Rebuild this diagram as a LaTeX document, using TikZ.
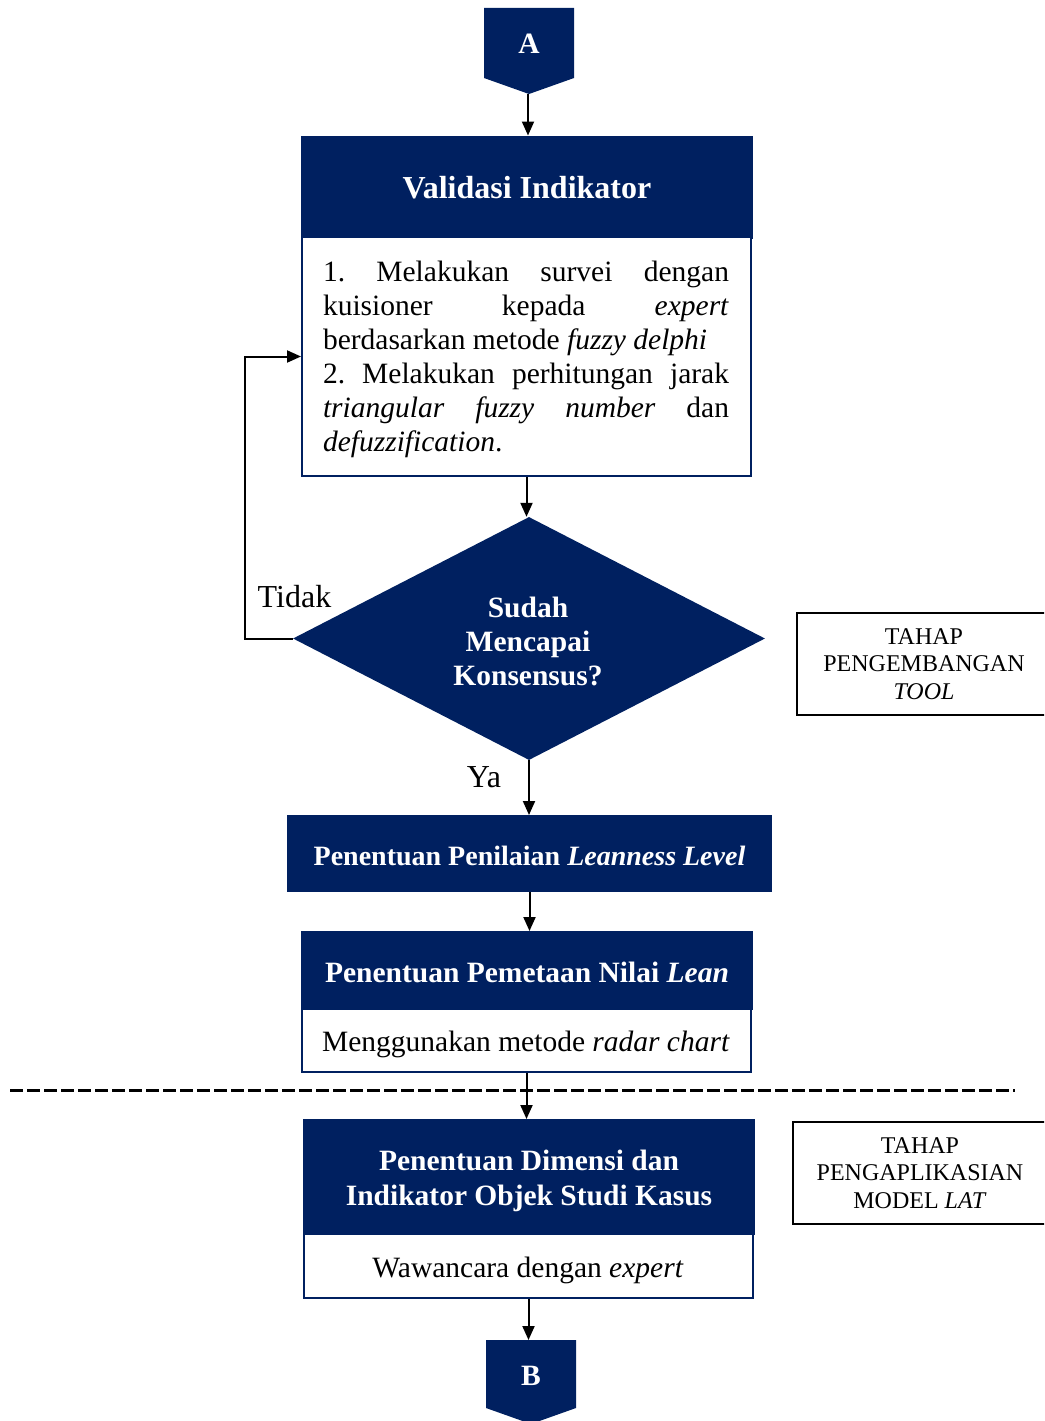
\documentclass[tikz,border=0pt]{standalone}
\usepackage{fontspec}
\setmainfont{Liberation Serif}
\usetikzlibrary{arrows.meta,shapes.geometric}
\definecolor{navy}{RGB}{0,32,96}

\begin{document}
\begin{tikzpicture}[x=1pt,y=-1pt,
  hdr/.style={draw=navy,fill=navy,line width=2pt,inner sep=0pt},
  bodybox/.style={draw=navy,fill=white,line width=2pt,inner sep=0pt},
  txt/.style={font=\fontsize{29.5}{34}\selectfont,inner sep=0pt,align=center},
  wtxt/.style={font=\fontsize{29.5}{35}\selectfont\bfseries,text=white,inner sep=0pt,align=center},
  flow/.style={line width=2pt,-{Triangle[length=14pt,width=12pt]}},
  side/.style={draw=black,line width=1.5pt,inner sep=0pt,anchor=west,minimum width=260,minimum height=102},
  sidetxt/.style={font=\fontsize{24}{27.5}\selectfont,align=center,inner sep=0pt}]

\useasboundingbox (0,0) rectangle (1044,1421);
\clip (0,0) rectangle (1044,1421);

% off-page connector A
\fill[navy] (484,8) -- (574,8) -- (574,78) -- (529,94) -- (484,78) -- cycle;
\node[wtxt] (A) at (529,44) {A};
\coordinate (Atip) at (528,94);

% Validasi Indikator
\node[hdr,minimum width=450,minimum height=101] (val) at (527,187) {};
\node[wtxt,font=\fontsize{32}{38}\selectfont\bfseries] (valh) at (527,188) {Validasi Indikator};
\node[bodybox,minimum width=449,minimum height=239] (valb) at (526.5,356.5) {};
\node[txt,align=left] (valt) at (526,359) {%
  \hbox to 406pt{1.\hfill Melakukan\hfill survei\hfill dengan}\\
  \hbox to 406pt{kuisioner\hfill kepada\hfill \textit{expert}}\\
  berdasarkan metode \textit{fuzzy delphi}\\
  \hbox to 406pt{2.\hfill Melakukan\hfill perhitungan\hfill jarak}\\
  \hbox to 406pt{\textit{triangular}\hfill\textit{fuzzy}\hfill\textit{number}\hfill dan}\\
  \textit{defuzzification}.};

% decision
\node[diamond,fill=navy,inner sep=0pt,minimum width=472,minimum height=243] (dec) at (529,638.5) {};
\node[wtxt,font=\fontsize{29.5}{34}\selectfont\bfseries] (dect) at (528,641) {Sudah\\Mencapai\\Konsensus?};
\node[txt,font=\fontsize{32}{38}\selectfont] (tidak) at (294.5,597) {Tidak};
\node[txt,font=\fontsize{32}{38}\selectfont] (ya) at (484,777) {Ya};

% Penentuan Penilaian Leanness Level
\node[hdr,minimum width=483,minimum height=75] (pen) at (529.5,853.5) {};
\node[wtxt,font=\fontsize{28}{34}\selectfont\bfseries] (penh) at (529.5,856)
  {Penentuan Penilaian \textit{Leanness Level}};

% Penentuan Pemetaan Nilai Lean
\node[hdr,minimum width=450,minimum height=77] (map) at (527,970.5) {};
\node[wtxt] (maph) at (527,972.5) {Penentuan Pemetaan Nilai \textit{Lean}};
\node[bodybox,minimum width=449,minimum height=63] (mapb) at (526.5,1040.5) {};
\node[txt] (mapt) at (526,1044) {Menggunakan metode \textit{radar chart}};

% phase separator
\coordinate (sepL) at (10,1090);
\coordinate (sepR) at (1015,1090);
\draw[line width=3pt,dash pattern=on 12.5pt off 4.5pt] (sepL) -- (sepR);

% Penentuan Dimensi dan Indikator
\node[hdr,minimum width=450,minimum height=114] (dim) at (529,1177) {};
\node[wtxt] (dimh) at (529,1181) {Penentuan Dimensi dan\\Indikator Objek Studi Kasus};
\node[bodybox,minimum width=449,minimum height=64] (dimb) at (528.5,1266) {};
\node[txt] (dimt) at (528,1270) {Wawancara dengan \textit{expert}};

% off-page connector B
\fill[navy] (486,1340) -- (576,1340) -- (576,1408) -- (531,1424) -- (486,1408) -- cycle;
\node[wtxt] (B) at (531,1376) {B};
\coordinate (Btop) at (531,1340);

% phase labels
\node[side] (ph1) at (796,664) {};
\node[sidetxt] (ph1t) at (924,664) {TAHAP\\PENGEMBANGAN\\\textit{TOOL}};
\node[side] (ph2) at (792,1173) {};
\node[sidetxt] (ph2t) at (920,1173) {TAHAP\\PENGAPLIKASIAN\\MODEL \textit{LAT}};

% connectors
\draw[flow] (Atip) -- (Atip |- val.north);
\draw[flow] (valb.south) -- (valb.south |- dec.north);
\draw[flow] (dec.west) -| ([xshift=-56pt]valb.west) -- (valb.west);
\draw[flow] (dec.south) -- (dec.south |- pen.north);
\draw[flow] (pen.south) -- (pen.south |- map.north);
\draw[flow] (mapb.south) -- (mapb.south |- dim.north);
\draw[flow] (dimb.south) -- (dimb.south |- Btop);
\end{tikzpicture}
\end{document}
